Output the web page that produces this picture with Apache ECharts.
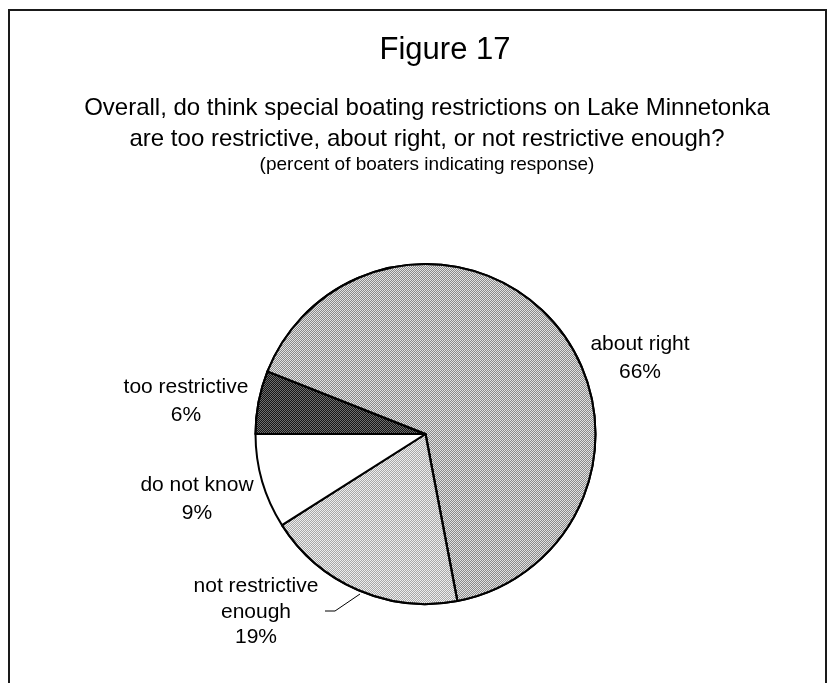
<!DOCTYPE html>
<html>
<head>
<meta charset="utf-8">
<script src="https://cdn.jsdelivr.net/npm/echarts@6/dist/echarts.min.js"></script>
<style>
  html, body { margin: 0; padding: 0; background: #fff; }
  #chart-1 { width: 830px; height: 683px; }
</style>
</head>
<body>
<div id="chart-1"></div>
<script>
var categories = ['too restrictive', 'about right', 'not restrictive\nenough', 'do not know'];
var values = [6, 66, 19, 9];
var titleText = 'Figure 17';
var questionLines = [
    'Overall, do think special boating restrictions on Lake Minnetonka',
    'are too restrictive, about right, or not restrictive enough?'
];
var noteText = '(percent of boaters indicating response)';

// look of each slice, same order as categories (base colour + halftone dot colour)
var sliceColors = ['#6e6e6e', '#e2e2e2', '#eeeeee', '#ffffff'];
var dotColors = ['#151515', '#8a8a8a', '#a8a8a8', null];
var labelPos = [[186, 401], [640, 358], [256, 612], [197, 499]];
var labelLineHeights = [28, 28, 25.5, 28];

var dom = document.getElementById('chart-1');
var myChart = echarts.init(dom);
var font = 'Liberation Sans';

var data = categories.map(function (name, i) {
    var style = { color: sliceColors[i] };
    if (dotColors[i]) {
        // checkerboard dots to look like the scanned halftone
        style.decal = {
            symbol: 'rect',
            symbolSize: 1,
            dashArrayX: [[1, 1], [0, 1, 1, 0]],
            dashArrayY: [1, 0],
            color: dotColors[i]
        };
    }
    return {
        name: name,
        value: values[i],
        itemStyle: style,
        label: { lineHeight: labelLineHeights[i] },
        labelLine: { show: i === 2 }
    };
});

var option = {
    backgroundColor: '#fff',
    animation: false,
    graphic: [
        {
            type: 'rect',
            silent: true,
            shape: { x: 9, y: 10, width: 817, height: 700 },
            style: { fill: 'none', stroke: '#1a1a1a', lineWidth: 2 }
        },
        {
            type: 'text', x: 445, y: 50,
            style: { text: titleText, fontSize: 31, fontFamily: font, fill: '#000', align: 'center', verticalAlign: 'middle' }
        },
        {
            type: 'text', x: 427, y: 108,
            style: { text: questionLines[0], fontSize: 24, fontFamily: font, fill: '#000', align: 'center', verticalAlign: 'middle' }
        },
        {
            type: 'text', x: 427, y: 139.5,
            style: { text: questionLines[1], fontSize: 24, fontFamily: font, fill: '#000', align: 'center', verticalAlign: 'middle' }
        },
        {
            type: 'text', x: 427, y: 165,
            style: { text: noteText, fontSize: 19, fontFamily: font, fill: '#000', align: 'center', verticalAlign: 'middle' }
        }
    ],
    series: [{
        type: 'pie',
        center: [425.5, 434],
        radius: 170,
        startAngle: 180,
        clockwise: true,
        avoidLabelOverlap: false,
        itemStyle: { borderColor: '#000', borderWidth: 2 },
        emphasis: { disabled: true },
        label: {
            show: true,
            formatter: '{b}\n{c}%',
            color: '#000',
            fontFamily: font,
            fontSize: 21
        },
        labelLine: {
            show: false,
            lineStyle: { color: '#000', width: 1 }
        },
        labelLayout: function (params) {
            var p = labelPos[params.dataIndex];
            var res = { x: p[0], y: p[1], align: 'center', verticalAlign: 'middle' };
            if (params.dataIndex === 2) {
                res.labelLinePoints = [[360, 594], [335, 611], [325, 611]];
            }
            return res;
        },
        data: data
    }]
};

myChart.setOption(option, true);
</script>
</body>
</html>
